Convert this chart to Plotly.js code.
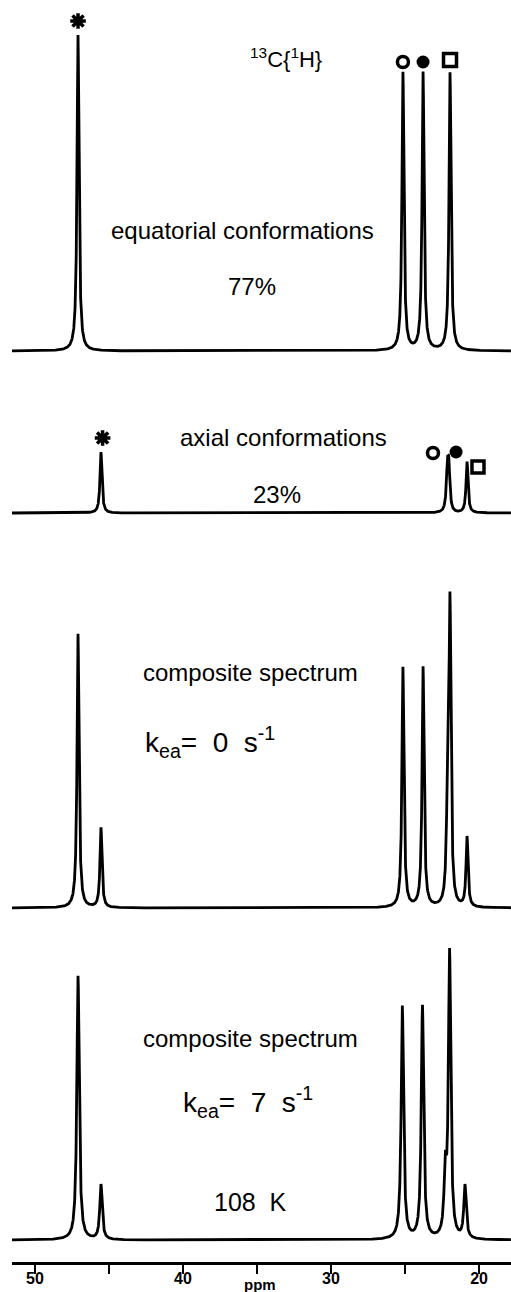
<!DOCTYPE html>
<html><head><meta charset="utf-8">
<script src="https://cdn.plot.ly/plotly-3.0.1.min.js"></script>
<style>html,body{margin:0;padding:0;background:#fff}#chart{width:511px;height:1292px}</style>
</head><body><div id="chart"></div>
<script>
// ---------- DATA ----------
const tickValues = [50, 40, 30, 20];
const tickLabels = ['50', '40', '30', '20'];
const minorTickValues = [45, 35, 25];
const axisTitle = 'ppm';

// equatorial conformations (peak positions in ppm, relative heights)
const eqPpm    = [47.09, 25.14, 23.78, 21.96];
const eqHeight = [316, 278, 278, 278];
const eqSymbols = ['asterisk-open', 'circle-open', 'circle', 'square-open'];

// axial conformations
const axPpm    = [45.54, 22.14, 22.04, 20.81];
const axHeight = [61, 40, 40, 51];
const axSymbols = ['asterisk-open', 'circle-open', 'circle', 'square-open'];

// composite, k = 0
const c0Ppm    = [47.09, 45.54, 25.14, 23.78, 22.16, 22.06, 21.96, 20.81];
const c0Height = [274, 80, 240, 240, 55, 45, 290, 70];

// composite, k = 7
const c7Ppm    = [47.09, 45.54, 25.18, 23.82, 22.28, 21.99, 20.95];
const c7Height = [264, 55, 233, 233, 60, 285, 53];

const panelLabels = {
  title: '<sup>13</sup>C{<sup>1</sup>H}',
  eq: 'equatorial conformations', eqPct: '77%',
  ax: 'axial conformations', axPct: '23%',
  comp: 'composite spectrum',
  k0: 'k<sub>ea</sub>=\u00a0 0\u00a0 s<sup>-1</sup>',
  k7: 'k<sub>ea</sub>=\u00a0 7\u00a0 s<sup>-1</sup>',
  temp: '108\u00a0 K'
};

// ---------- STYLE / LAYOUT CONSTANTS ----------
const FONT = 'Liberation Sans, Arial, Helvetica, sans-serif';
const X_RANGE = [51.55, 17.84];
const PLOT_TOP = 0, PLOT_BOTTOM = 1262, PLOT_LEFT = 12, PLOT_RIGHT = 511;
const BASELINES = [351, 513, 908, 1240];   // pixel rows of the four baselines
const WIDTHS = [0.08, 0.08, 0.08, 0.095];  // Lorentzian half widths (ppm)
const STEP = 0.005;

function lorentzSpectrum(ppm, height, w) {
  const xs = [], ys = [];
  for (let x = X_RANGE[0]; x >= X_RANGE[1]; x -= STEP) {
    let y = 0;
    for (let i = 0; i < ppm.length; i++) {
      const d = x - ppm[i];
      y += height[i] * w * w / (d * d + w * w);
    }
    xs.push(x); ys.push(y);
  }
  return {xs, ys};
}

const panels = [
  {ppm: eqPpm, h: eqHeight},
  {ppm: axPpm, h: axHeight},
  {ppm: c0Ppm, h: c0Height},
  {ppm: c7Ppm, h: c7Height}
];
const yNames = ['y', 'y2', 'y3', 'y4'];

const traces = panels.map((p, i) => {
  const s = lorentzSpectrum(p.ppm, p.h, WIDTHS[i]);
  return {x: s.xs, y: s.ys, type: 'scatter', mode: 'lines', yaxis: yNames[i],
          line: {color: '#000', width: 2.8, shape: 'linear'}, hoverinfo: 'skip'};
});

// symbol markers above peaks (equatorial: straight above; axial: offset)
const eqMarkOffset = [14, 11, 11, 13];
traces.push({
  x: eqPpm, y: eqHeight.map((h, i) => h + eqMarkOffset[i]), yaxis: 'y',
  type: 'scatter', mode: 'markers', cliponaxis: false, hoverinfo: 'skip', opacity: 1,
  marker: {symbol: eqSymbols, size: [13, 11, 13, 13], color: 'rgb(0,0,0)', opacity: 1,
           line: {color: 'rgb(0,0,0)', width: [3.5, 3.5, 0, 3.5]}}
});
const axMarkX = [45.43, 23.11, 21.55, 20.07];     // label positions (ppm)
const axMarkY = [75, 60, 61, 46];
traces.push({
  x: axMarkX, y: axMarkY, yaxis: 'y2',
  type: 'scatter', mode: 'markers', cliponaxis: false, hoverinfo: 'skip', opacity: 1,
  marker: {symbol: axSymbols, size: [13, 11, 13, 12], color: 'rgb(0,0,0)', opacity: 1,
           line: {color: 'rgb(0,0,0)', width: [3.5, 3.5, 0, 3.5]}}
});

const yAxisBase = {visible: false, fixedrange: true, showgrid: false, zeroline: false, domain: [0, 1]};
function yRange(B) { return [B - PLOT_BOTTOM, B - PLOT_TOP]; }

const px = x => (x - PLOT_LEFT) / (PLOT_RIGHT - PLOT_LEFT);
const py = y => (PLOT_BOTTOM - y) / (PLOT_BOTTOM - PLOT_TOP);
function ann(text, x, y, size, opts) {
  return Object.assign({text, x: px(x), y: py(y), xref: 'paper', yref: 'paper',
    showarrow: false, xanchor: 'center', yanchor: 'middle',
    font: {family: FONT, size, color: '#000'}}, opts || {});
}

const layout = {
  width: 511, height: 1292,
  margin: {l: PLOT_LEFT, r: 511 - PLOT_RIGHT, t: PLOT_TOP, b: 1292 - PLOT_BOTTOM, pad: 0},
  paper_bgcolor: '#fff', plot_bgcolor: '#fff', showlegend: false,
  xaxis: {range: X_RANGE, tickmode: 'array', tickvals: tickValues, ticktext: tickLabels,
          ticks: 'outside', ticklen: 9, tickwidth: 2, tickcolor: '#000', ticklabelstandoff: -9,
          minor: {tickvals: minorTickValues, ticks: 'outside', ticklen: 9, tickwidth: 2, tickcolor: '#000', showgrid: false},
          showline: true, linewidth: 3, linecolor: '#000', showgrid: false, zeroline: false,
          tickfont: {family: FONT, size: 16, color: '#000', weight: 'bold'}, fixedrange: true},
  yaxis:  Object.assign({}, yAxisBase, {range: yRange(BASELINES[0])}),
  yaxis2: Object.assign({}, yAxisBase, {range: yRange(BASELINES[1]), overlaying: 'y'}),
  yaxis3: Object.assign({}, yAxisBase, {range: yRange(BASELINES[2]), overlaying: 'y'}),
  yaxis4: Object.assign({}, yAxisBase, {range: yRange(BASELINES[3]), overlaying: 'y'}),
  annotations: [
    ann(panelLabels.title, 286, 58, 22),
    ann(panelLabels.eq, 242, 230, 24),
    ann(panelLabels.eqPct, 252, 287, 24),
    ann(panelLabels.ax, 283, 437, 24),
    ann(panelLabels.axPct, 277, 495, 24),
    ann(panelLabels.comp, 250, 672, 24),
    ann(panelLabels.k0, 143, 742, 28, {xanchor: 'left'}),
    ann(panelLabels.comp, 250, 1038, 24),
    ann(panelLabels.k7, 181, 1102, 28, {xanchor: 'left'}),
    ann(panelLabels.temp, 250, 1202, 25),
    ann(axisTitle, 260, 1284, 15, {borderpad: 0, font: {family: FONT, size: 15, color: '#000', weight: 'bold'}})
  ]
};

Plotly.newPlot('chart', traces, layout, {staticPlot: true, displayModeBar: false});
</script>
</body></html>
